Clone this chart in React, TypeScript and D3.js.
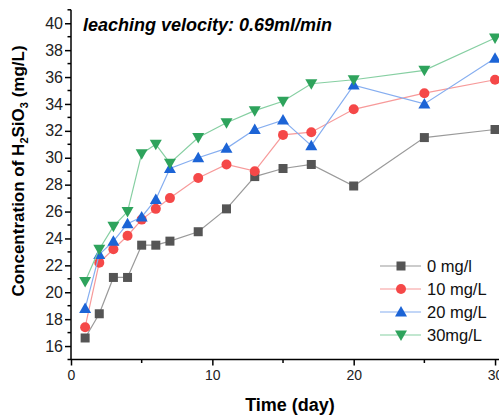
import React, { useEffect, useRef } from 'react';
import * as d3 from 'd3';

const days = [1, 2, 3, 4, 5, 6, 7, 9, 11, 13, 15, 17, 20, 25, 30];
const s0 = [16.6, 18.4, 21.1, 21.1, 23.5, 23.5, 23.8, 24.5, 26.2, 28.6, 29.2, 29.5, 27.9, 31.5, 32.1];
const s10 = [17.4, 22.2, 23.2, 24.2, 25.4, 26.2, 27.0, 28.5, 29.5, 29.0, 31.7, 31.9, 33.6, 34.8, 35.8];
const s20 = [18.8, 22.8, 23.8, 25.1, 25.6, 26.9, 29.2, 30.0, 30.7, 32.1, 32.8, 30.9, 35.4, 34.0, 37.4];
const s30 = [20.8, 23.2, 24.9, 26.0, 30.3, 31.0, 29.6, 31.5, 32.6, 33.5, 34.2, 35.5, 35.8, 36.5, 38.9];
const names = ['0 mg/l', '10 mg/L', '20 mg/L', '30mg/L'];
const yTicks = [16, 18, 20, 22, 24, 26, 28, 30, 32, 34, 36, 38, 40];
const xTicks = [0, 10, 20, 30];

const series = [
  { name: names[0], values: s0, marker: '#555555', line: '#9a9a9a', shape: 'square' },
  { name: names[1], values: s10, marker: '#f54848', line: '#f79a9a', shape: 'circle' },
  { name: names[2], values: s20, marker: '#1c64d6', line: '#86aef0', shape: 'up' },
  { name: names[3], values: s30, marker: '#2ea35c', line: '#86cfa2', shape: 'down' },
];

const W = 499;
const H = 417;

const App = () => {
  const ref = useRef<SVGSVGElement>(null);

  useEffect(() => {
    const svg = d3.select(ref.current);
    svg.selectAll('*').remove();
    const font = 'Arial, "Liberation Sans", sans-serif';

    const x = d3.scaleLinear().domain([0, 30.28]).range([71, 499]);
    const y = d3.scaleLinear().domain([15, 41]).range([359.5, 9.8]);

    const drawMarker = (g: any, shape: string, color: string) => {
      if (shape === 'square') {
        g.append('rect').attr('x', -4.5).attr('y', -4.5).attr('width', 9).attr('height', 9).attr('fill', color);
      } else if (shape === 'circle') {
        g.append('circle').attr('r', 5).attr('fill', color);
      } else if (shape === 'up') {
        g.append('path').attr('d', 'M0,-6 L6,4.5 L-6,4.5 Z').attr('fill', color);
      } else {
        g.append('path').attr('d', 'M0,6 L6,-4.5 L-6,-4.5 Z').attr('fill', color);
      }
    };

    // axes
    const yAxis = d3.axisLeft(y).tickValues(yTicks).tickSize(6).tickPadding(2).tickFormat(d3.format('d'));
    const gy = svg.append('g').attr('transform', 'translate(71,0)').call(yAxis);
    gy.select('.domain').attr('d', `M0,${y(41)}V${y(15)}`).attr('stroke-width', 1.5);
    gy.selectAll('.tick line').attr('stroke-width', 1.5);
    gy.selectAll('.tick text').attr('font-size', 16).attr('font-family', font).attr('fill', '#222');
    d3.range(15, 42, 2).forEach((v) => {
      gy.append('line').attr('x1', -3.5).attr('x2', 0).attr('y1', y(v)).attr('y2', y(v)).attr('stroke', '#000').attr('stroke-width', 1.5);
    });

    const xAxis = d3.axisBottom(x).tickValues(xTicks).tickSize(6).tickPadding(5).tickFormat(d3.format('d'));
    const gx = svg.append('g').attr('transform', 'translate(0,359.5)').call(xAxis);
    gx.select('.domain').attr('d', `M71,0H499`).attr('stroke-width', 1.5);
    gx.selectAll('.tick line').attr('stroke-width', 1.5);
    gx.selectAll('.tick text').attr('font-size', 14).attr('font-family', font).attr('fill', '#222');
    [5, 15, 25].forEach((v) => {
      gx.append('line').attr('x1', x(v)).attr('x2', x(v)).attr('y1', 0).attr('y2', 3.5).attr('stroke', '#000').attr('stroke-width', 1.5);
    });

    // series
    series.forEach((s) => {
      const line = d3.line<number>().x((_, i) => x(days[i])).y((d) => y(d));
      svg.append('path').attr('d', line(s.values)).attr('fill', 'none').attr('stroke', s.line).attr('stroke-width', 1.2);
      s.values.forEach((v, i) => {
        const g = svg.append('g').attr('transform', `translate(${x(days[i])},${y(v)})`);
        drawMarker(g, s.shape, s.marker);
      });
    });

    // legend
    series.forEach((s, i) => {
      const ly = 266 + i * 23;
      svg.append('line').attr('x1', 380).attr('x2', 421).attr('y1', ly).attr('y2', ly).attr('stroke', s.line).attr('stroke-width', 1.2);
      const g = svg.append('g').attr('transform', `translate(401,${ly})`);
      drawMarker(g, s.shape, s.marker);
      svg.append('text').attr('x', 427).attr('y', ly).attr('dy', '0.35em').attr('font-size', 16.5).attr('font-family', font).attr('fill', '#111').text(s.name);
    });

    // title
    svg.append('text').attr('x', 83).attr('y', 31).attr('font-size', 18).attr('font-weight', 'bold').attr('font-style', 'italic').attr('font-family', font).text('leaching velocity: 0.69ml/min');

    // axis labels
    svg.append('text').attr('x', 290).attr('y', 411).attr('text-anchor', 'middle').attr('font-size', 18).attr('font-weight', 'bold').attr('font-family', font).text('Time (day)');

    const yl = svg.append('text').attr('transform', 'translate(24,171) rotate(-90)').attr('text-anchor', 'middle').attr('font-size', 17).attr('font-weight', 'bold').attr('font-family', font);
    yl.append('tspan').text('Concentration of H');
    yl.append('tspan').attr('font-size', 11).attr('dy', 4).text('2');
    yl.append('tspan').attr('dy', -4).text('SiO');
    yl.append('tspan').attr('font-size', 11).attr('dy', 4).text('3');
    yl.append('tspan').attr('dy', -4).text(' (mg/L)');
  }, []);

  return (
    <svg ref={ref} width={W} height={H} style={{ position: 'absolute', left: 0, top: 0, background: '#fff' }}></svg>
  );
};

export default App;
